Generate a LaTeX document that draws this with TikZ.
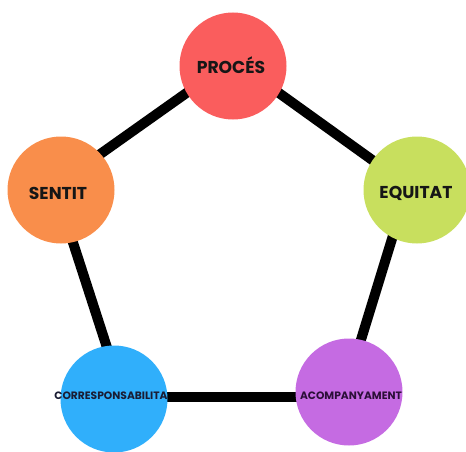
\documentclass[tikz,border=0pt]{standalone}
\usepackage{fontspec}
\newfontfamily\pop{Poppins}
\usetikzlibrary{backgrounds}
\definecolor{cproces}{HTML}{FA5D5D}
\definecolor{csentit}{HTML}{F98E4B}
\definecolor{cequitat}{HTML}{C8DF5E}
\definecolor{ccorr}{HTML}{30AFFB}
\definecolor{cacomp}{HTML}{C56BE2}
\definecolor{tdark}{HTML}{161616}
\definecolor{tnavy}{HTML}{1A1C33}
\definecolor{tplum}{HTML}{2B0F38}
\begin{document}
\begin{tikzpicture}[x=1pt,y=-1pt,
  ball/.style={circle, minimum size=107pt, inner sep=0pt, draw=none},
  bigtxt/.style={inner sep=0pt, text=tdark, font=\pop\bfseries\fontsize{17.2}{18}\selectfont},
  smalltxt/.style={inner sep=0pt, font=\pop\bfseries\fontsize{10.7}{11}\selectfont},
  link/.style={line width=10pt, black}]
\useasboundingbox (0,0) rectangle (466,452);
\node[ball, fill=cproces] (proces) at (233,66) {};
\node[ball, fill=csentit] (sentit) at (61,190) {};
\node[ball, fill=cequitat] (equitat) at (417,190) {};
\node[ball, fill=ccorr] (corr) at (114,399) {};
\node[ball, fill=cacomp] (acomp) at (349,392) {};
\node[bigtxt] (procest) at (231,65) {PROCÉS};
\node[bigtxt] (sentitt) at (58,193) {SENTIT};
\node[bigtxt] (equitatt) at (416,193) {EQUITAT};
\node[smalltxt, text=tnavy] (corrt) at (111,396) {CORRESPONSABILITA};
\node[smalltxt, text=tplum] (acompt) at (351,396) {ACOMPANYAMENT};
\begin{scope}[on background layer]
\draw[link] ([shift={(0,-6)}]proces.center) -- ([shift={(-3,-6)}]sentit.center);
\draw[link] ([shift={(0,-6)}]proces.center) -- ([shift={(-3,0)}]equitat.center);
\draw[link] ([shift={(-5,0)}]sentit.center) -- ([shift={(9,-2)}]corr.center);
\draw[link] ([shift={(-10,0)}]equitat.center) -- ([shift={(-5,3)}]acomp.center);
\draw[link] ([shift={(0,-2)}]corr.center) -- ([shift={(0,5)}]acomp.center);
\end{scope}
\end{tikzpicture}
\end{document}
